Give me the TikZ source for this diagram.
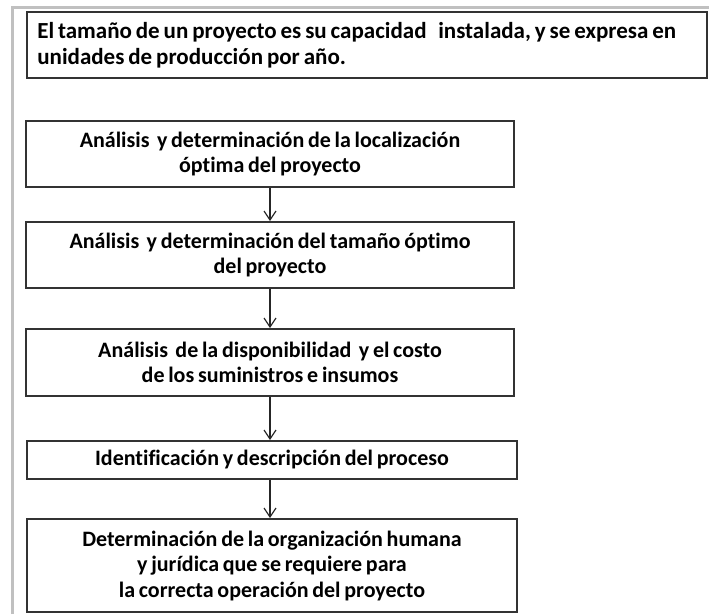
\documentclass[tikz,border=0pt]{standalone}
\usepackage{fontspec}
\setmainfont[WordSpace=0.75,Ligatures=NoCommon]{Carlito}
\usetikzlibrary{arrows.meta}
\definecolor{boxline}{HTML}{333333}
\definecolor{framegray}{HTML}{C0C0C0}
\tikzset{
  boxfont/.style={font=\fontsize{22}{25.5}\selectfont\bfseries, text=black},
  flowbox/.style={draw=boxline, line width=1.8pt, inner sep=0pt, align=center, boxfont},
  flowarrow/.style={draw=black!85, line width=1.2pt, -{Straight Barb[length=9pt,width=12pt,line width=1.2pt]}},
  frameline/.style={draw=framegray, line width=3pt}
}
\begin{document}
\begin{tikzpicture}[x=1pt,y=-1pt]
\useasboundingbox (0,0) rectangle (709,614);
\fill[white] (0,0) rectangle (709,614);
% gray frame
\draw[frameline] (12.5,614) -- (12.5,7.5) -- (709,7.5);
% top definition box
\node[flowbox, minimum width=680pt, minimum height=66pt] (def) at (367,45) {};
\node[boxfont, font=\fontsize{23}{25.5}\selectfont\bfseries, align=left, anchor=west, inner sep=0pt]
  (deftext) at ([xshift=11pt]def.west)
  {El tamaño de un proyecto es su capacidad\ \ \ instalada, y se expresa en\\unidades de producción por año.};
% flow boxes
\node[flowbox, minimum width=488pt, minimum height=66pt] (b1) at (270,154)
  {Análisis\ \,y determinación de la localización\\óptima del proyecto};
\node[flowbox, minimum width=488pt, minimum height=66pt] (b2) at (270,255)
  {Análisis\ \,y determinación del tamaño óptimo\\del proyecto};
\node[flowbox, minimum width=488pt, minimum height=67pt] (b3) at (270,362.5)
  {Análisis\ \,de la disponibilidad\ \,y el costo\\de los suministros e insumos};
\node[flowbox, minimum width=490pt, minimum height=38pt] (b4) at (272,460)
  {Identificación y descripción del proceso};
\node[flowbox, minimum width=490pt, minimum height=93pt] (b5) at (272,565.5)
  {Determinación de la organización humana\\y jurídica que se requiere para\\la correcta operación del proyecto};
% connectors
\draw[flowarrow] (b1.south) -- (b2.north);
\draw[flowarrow] (b2.south) -- (b3.north);
\draw[flowarrow] (b3.south) -- (b3.south |- b4.north);
\draw[flowarrow] (b3.south |- b4.south) -- (b3.south |- b5.north);
\end{tikzpicture}
\end{document}
